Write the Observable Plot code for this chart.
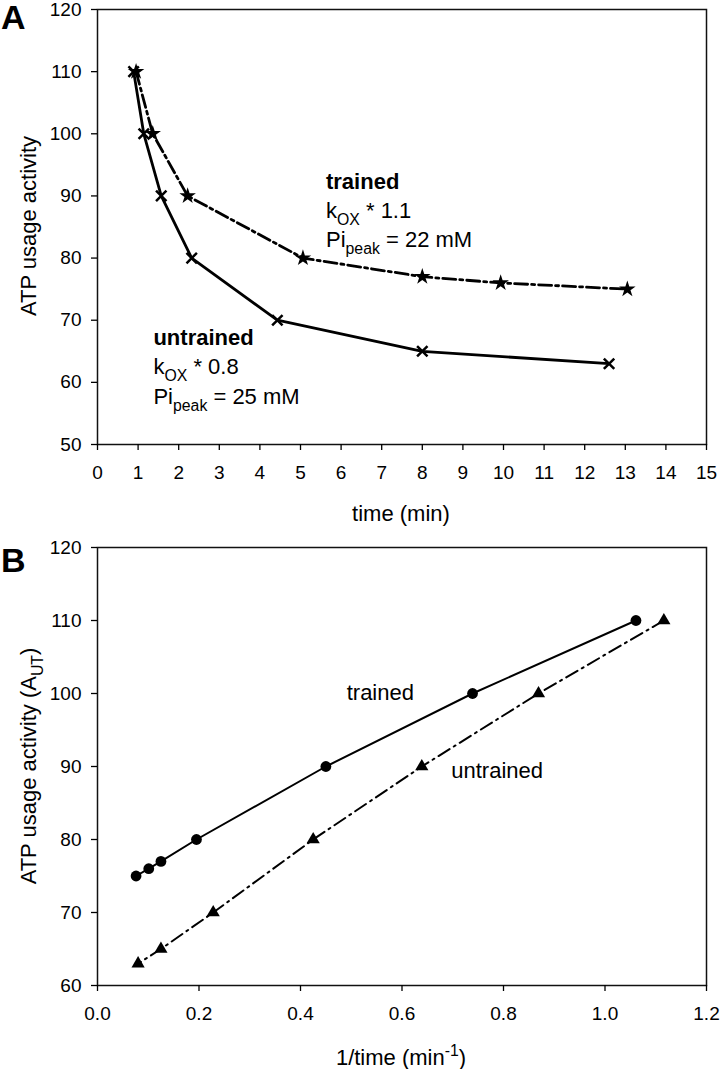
<!DOCTYPE html>
<html>
<head>
<meta charset="utf-8">
<script src="https://cdn.jsdelivr.net/npm/d3@7"></script>
<script src="https://cdn.jsdelivr.net/npm/@observablehq/plot@0.6"></script>
<style>
  html, body { margin: 0; padding: 0; background: #fff; }
  #chart { width: 720px; height: 1069px; position: relative; }
  #chart svg { display: block; }
</style>
</head>
<body>
<div id="chart"></div>
<script>
const FONT = "'Liberation Sans', Arial, Helvetica, sans-serif";

// ---- Panel A data: ATP usage activity vs time (min) ----
const timeUntrained = [0.89, 1.14, 1.57, 2.32, 4.43, 8.0, 12.6];
const actUntrained  = [110, 100, 90, 80, 70, 65, 63];
const timeTrained   = [0.95, 1.36, 2.22, 5.06, 8.0, 9.93, 13.05];
const actTrained    = [110, 100, 90, 80, 77, 76, 75];

// ---- Panel B data: ATP usage activity vs 1/time (min^-1) ----
const invTimeTrained   = [1.061, 0.739, 0.45, 0.195, 0.125, 0.101, 0.076];
const actTrainedB      = [110, 100, 90, 80, 77, 76, 75];
const invTimeUntrained = [1.116, 0.869, 0.639, 0.425, 0.228, 0.125, 0.08];
const actUntrainedB    = [110, 100, 90, 80, 70, 65, 63];

// ---- Tick values ----
const ticksA_x = d3.range(0, 16, 1);
const ticksA_y = d3.range(50, 121, 10);
const ticksB_x = [0, 0.2, 0.4, 0.6, 0.8, 1.0, 1.2];
const ticksB_y = d3.range(60, 121, 10);

// ---- Annotation text (anchor in data units) ----
const annotA = [
  {x: 5.64, y: 92.3, parts: [{t: "trained", b: true}]},
  {x: 5.64, y: 87.7, parts: [{t: "k"}, {t: "OX", sub: true}, {t: " * 1.1"}]},
  {x: 5.64, y: 83.0, parts: [{t: "Pi"}, {t: "peak", sub: true}, {t: " = 22 mM"}]},
  {x: 1.39, y: 67.2, parts: [{t: "untrained", b: true}]},
  {x: 1.39, y: 62.6, parts: [{t: "k"}, {t: "OX", sub: true}, {t: " * 0.8"}]},
  {x: 1.39, y: 57.8, parts: [{t: "Pi"}, {t: "peak", sub: true}, {t: " = 25 mM"}]}
];
const annotB = [
  {x: 0.492, y: 100.1, parts: [{t: "trained"}]},
  {x: 0.698, y: 89.45, parts: [{t: "untrained"}]}
];

const zip = (xs, ys) => xs.map((x, i) => ({x, y: ys[i]}));
const dataA_u = zip(timeUntrained, actUntrained);
const dataA_t = zip(timeTrained, actTrained);
const dataB_t = zip(invTimeTrained, actTrainedB);
const dataB_u = zip(invTimeUntrained, actUntrainedB);

function rich(svg, x, y, parts, opts = {}) {
  const size = opts.size || 22;
  const t = d3.select(svg).append("text")
    .attr("x", x).attr("y", y)
    .attr("font-family", FONT)
    .attr("font-size", size)
    .attr("fill", "black")
    .attr("text-anchor", opts.anchor || "start");
  if (opts.rotate) t.attr("transform", `rotate(${opts.rotate},${x},${y})`);
  let cur = 0;
  parts.forEach(p => {
    const target = p.sub ? 0.33 * size : p.sup ? -0.42 * size : 0;
    const s = t.append("tspan").text(p.t).attr("dy", target - cur);
    cur = target;
    if (p.sub || p.sup) s.attr("font-size", 0.72 * size);
    if (p.b) s.attr("font-weight", "bold");
  });
  return t;
}

const common = {
  width: 720,
  marginLeft: 97,
  marginRight: 14,
  style: {fontFamily: FONT, fontSize: "19px", color: "black", background: "white", overflow: "visible"}
};

// ---------- Panel A ----------
const chartA = Plot.plot({
  ...common,
  height: 530,
  marginTop: 9,
  marginBottom: 86,
  x: {domain: [0, 15]},
  y: {domain: [50, 120]},
  marks: [
    Plot.frame({stroke: "#111", strokeWidth: 1.5}),
    Plot.axisX({ticks: ticksA_x, tickSize: 6, tickPadding: 15, label: null, strokeWidth: 1.3}),
    Plot.axisY({ticks: ticksA_y, tickSize: 6, tickPadding: 10, label: null, strokeWidth: 1.3}),
    Plot.line(dataA_u, {x: "x", y: "y", stroke: "black", strokeWidth: 2.8}),
    Plot.line(dataA_t, {x: "x", y: "y", stroke: "black", strokeWidth: 2.8, strokeDasharray: "13,4,3,4"}),
    Plot.dot(dataA_u, {x: "x", y: "y", symbol: "times", r: 4.8, stroke: "black", strokeWidth: 2.5}),
    Plot.dot(dataA_t, {x: "x", y: "y", symbol: "star", r: 5.2, fill: "black"})
  ]
});

// ---------- Panel B ----------
const chartB = Plot.plot({
  ...common,
  height: 539,
  marginTop: 17,
  marginBottom: 84,
  x: {domain: [0, 1.2]},
  y: {domain: [60, 120]},
  marks: [
    Plot.frame({stroke: "#111", strokeWidth: 1.5}),
    Plot.axisX({ticks: ticksB_x, tickFormat: d3.format(".1f"), tickSize: 6, tickPadding: 15, label: null, strokeWidth: 1.3}),
    Plot.axisY({ticks: ticksB_y, tickSize: 6, tickPadding: 10, label: null, strokeWidth: 1.3}),
    Plot.line(dataB_t, {x: "x", y: "y", stroke: "black", strokeWidth: 2}),
    Plot.line(dataB_u, {x: "x", y: "y", stroke: "black", strokeWidth: 2, strokeDasharray: "13,5,2,5"}),
    Plot.dot(dataB_t, {x: "x", y: "y", symbol: "circle", r: 5.4, fill: "black"}),
    Plot.dot(dataB_u, {x: "x", y: "y", symbol: "triangle", r: 4.9, fill: "black"})
  ]
});

const root = document.getElementById("chart");
root.appendChild(chartA);
root.appendChild(chartB);

// Annotations & titles for A
{
  const sx = chartA.scale("x"), sy = chartA.scale("y");
  annotA.forEach(a => rich(chartA, sx.apply(a.x), sy.apply(a.y) + 8, a.parts, {size: 22}));
  rich(chartA, 401, 521, [{t: "time (min)"}], {size: 22, anchor: "middle"});
  rich(chartA, 36, 226, [{t: "ATP usage activity"}], {size: 22, anchor: "middle", rotate: -90});
  rich(chartA, 1, 29, [{t: "A", b: true}], {size: 34});
}
// Annotations & titles for B
{
  const sx = chartB.scale("x"), sy = chartB.scale("y");
  annotB.forEach(a => rich(chartB, sx.apply(a.x), sy.apply(a.y) + 8, a.parts, {size: 22}));
  rich(chartB, 401, 535, [{t: "1/time (min"}, {t: "-1", sup: true}, {t: ")"}], {size: 22, anchor: "middle"});
  rich(chartB, 36, 236, [{t: "ATP usage activity (A"}, {t: "UT", sub: true}, {t: ")"}], {size: 22, anchor: "middle", rotate: -90});
  rich(chartB, 1, 42, [{t: "B", b: true}], {size: 34});
}
</script>
</body>
</html>
